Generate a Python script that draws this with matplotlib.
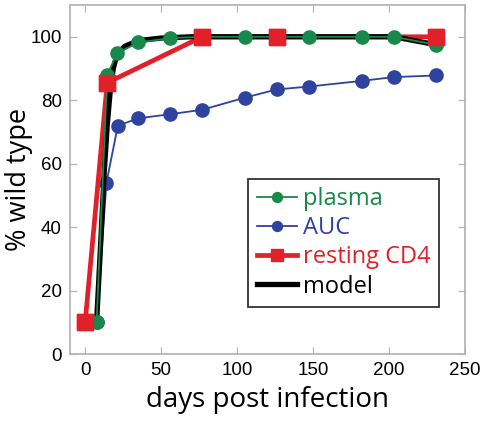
import matplotlib.pyplot as plt

# data
plasma_days = [7.5, 14.5, 21, 35, 56, 77, 105, 126, 147, 182, 203, 231]
plasma_vals = [10, 88, 94.8, 98.2, 99.6, 100, 100, 100, 100, 100, 100, 97.5]

auc_days = [7.5, 14, 21.5, 35, 56, 77, 105, 126, 147, 182, 203, 231]
auc_vals = [10, 54, 72, 74.3, 75.6, 77, 80.8, 83.4, 84.3, 86.1, 87.3, 87.8]

cd4_days = [0, 14.5, 77, 126, 231]
cd4_vals = [10, 85.5, 100, 100, 100]

model_days = [7.5, 10, 12.5, 14.5, 16.5, 18.5, 21, 26, 35, 50, 70, 203, 231]
model_vals = [10, 33, 57, 72, 83, 90, 94.5, 97, 98.8, 99.6, 100, 100, 97.5]

green = '#17894a'
blue = '#2e42a0'
red = '#e2202a'

plt.rcParams['font.family'] = ['Liberation Sans', 'DejaVu Sans']
fig = plt.figure(figsize=(4.88, 4.21), dpi=100)
ax = fig.add_axes([0.1434, 0.159, 0.8096, 0.829])

ax.plot(auc_days, auc_vals, '-o', color=blue, lw=1.3, ms=9.5, zorder=2, label='AUC')
ax.plot(cd4_days, cd4_vals, '-s', color=red, lw=3.4, ms=12, zorder=3, label='resting CD4')
ax.plot(model_days, model_vals, '-', color='black', lw=3.8, zorder=4, label='model')
ax.plot(plasma_days, plasma_vals, '-o', color=green, lw=1.3, ms=9.5, zorder=5, label='plasma')
ax.plot(cd4_days, cd4_vals, 's', color=red, ms=12, zorder=6)

ax.set_xlim(-10, 250)
ax.set_ylim(0, 110)
ax.set_xticks([0, 50, 100, 150, 200, 250])
ax.set_yticks([0, 20, 40, 60, 80, 100])
ax.tick_params(direction='in', top=True, right=True, labelsize=13.5,
               color='#b0b0b0', length=5, pad=6)
for s in ax.spines.values():
    s.set_color('#b0b0b0')
    s.set_linewidth(1.2)

ax.set_xlabel('days post infection', family='Open Sans', fontsize=20, labelpad=5)
ax.set_ylabel('% wild type', family='Open Sans', fontsize=19.5, labelpad=-2)

h, l = ax.get_legend_handles_labels()
order = [3, 0, 1, 2]
leg = ax.legend([h[i] for i in order], [l[i] for i in order],
                loc='lower right', bbox_to_anchor=(0.933, 0.135),
                prop={'family': 'Open Sans', 'size': 17}, frameon=True,
                fancybox=False, edgecolor='black', handlelength=1.7,
                handletextpad=0.25, borderpad=0.35, labelspacing=0.22,
                borderaxespad=0, markerscale=0.75)
leg.get_frame().set_linewidth(1.3)
for t, c in zip(leg.get_texts(), [green, blue, red, 'black']):
    t.set_color(c)

plt.savefig('out.png')
